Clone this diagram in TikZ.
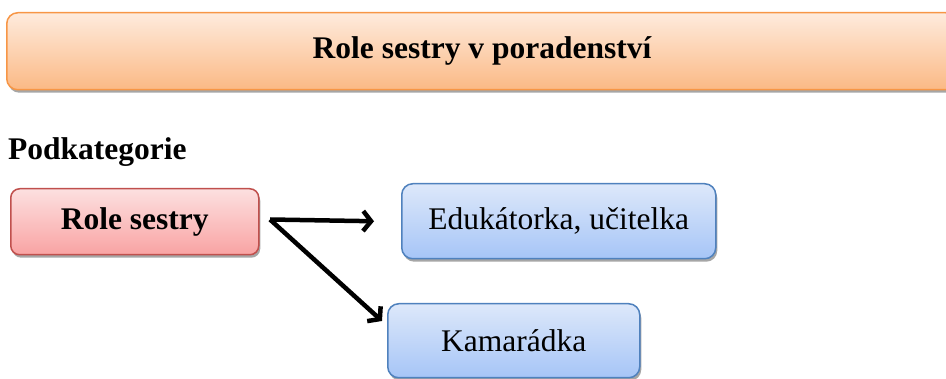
\documentclass[tikz,border=0pt]{standalone}
\usepackage{fontspec}
\setmainfont{Liberation Serif}
\usetikzlibrary{arrows.meta,shadows}
\definecolor{orbord}{HTML}{F79646}
\definecolor{ortop}{HTML}{FEEBDD}
\definecolor{orbot}{HTML}{FBB985}
\definecolor{rdbord}{HTML}{C0504D}
\definecolor{rdtop}{HTML}{FCE0E0}
\definecolor{rdbot}{HTML}{F9A3A3}
\definecolor{blbord}{HTML}{4F81BD}
\definecolor{bltop}{HTML}{DDE8FA}
\definecolor{blbot}{HTML}{A6C5F7}
\tikzset{
  box/.style={rounded corners=11pt, line width=1.5pt, anchor=north west,
    inner sep=0pt, align=center, font=\fontsize{31.5}{36}\selectfont,
    drop shadow={shadow xshift=1.5pt, shadow yshift=-3pt, opacity=0.35, fill=black}},
  orbox/.style={box, draw=orbord, top color=ortop, bottom color=orbot},
  rdbox/.style={box, draw=rdbord, top color=rdtop, bottom color=rdbot, rounded corners=9pt},
  blbox/.style={box, draw=blbord, top color=bltop, bottom color=blbot},
  conn/.style={line width=4.5pt, -{Straight Barb[length=8pt,width=20pt]}}
}
\begin{document}
\begin{tikzpicture}[x=1pt,y=1pt]
\useasboundingbox (0,0) rectangle (946,-379);
\node[orbox, minimum width=950pt, minimum height=77pt] (title) at (6,-12) {};
\node[font=\fontsize{31.5}{36}\selectfont\bfseries] (titletext) at (482,-51) {Role sestry v poradenství};
\node[anchor=base west, inner sep=0pt, font=\fontsize{31.5}{36}\selectfont\bfseries] (sub) at (8,-160) {Podkategorie};
\node[rdbox, minimum width=248pt, minimum height=66pt] (role) at (10,-188) {};
\node[font=\fontsize{31.5}{36}\selectfont\bfseries] at (role.center) {Role sestry};
\node[blbox, minimum width=314pt, minimum height=75pt] (edu) at (401,-183) {};
\node[font=\fontsize{31.5}{36}\selectfont] at (edu.center) {Edukátorka, učitelka};
\node[blbox, minimum width=252pt, minimum height=74pt] (kam) at (387,-303) {};
\node[font=\fontsize{31.5}{36}\selectfont] at (kam.center) {Kamarádka};
\coordinate (fork) at (270,-219.5);
\coordinate (tipb) at (382,-321);
\draw[conn] (fork) -- ([xshift=-27pt]edu.west);
\draw[conn] (fork) -- (tipb);
\end{tikzpicture}
\end{document}
